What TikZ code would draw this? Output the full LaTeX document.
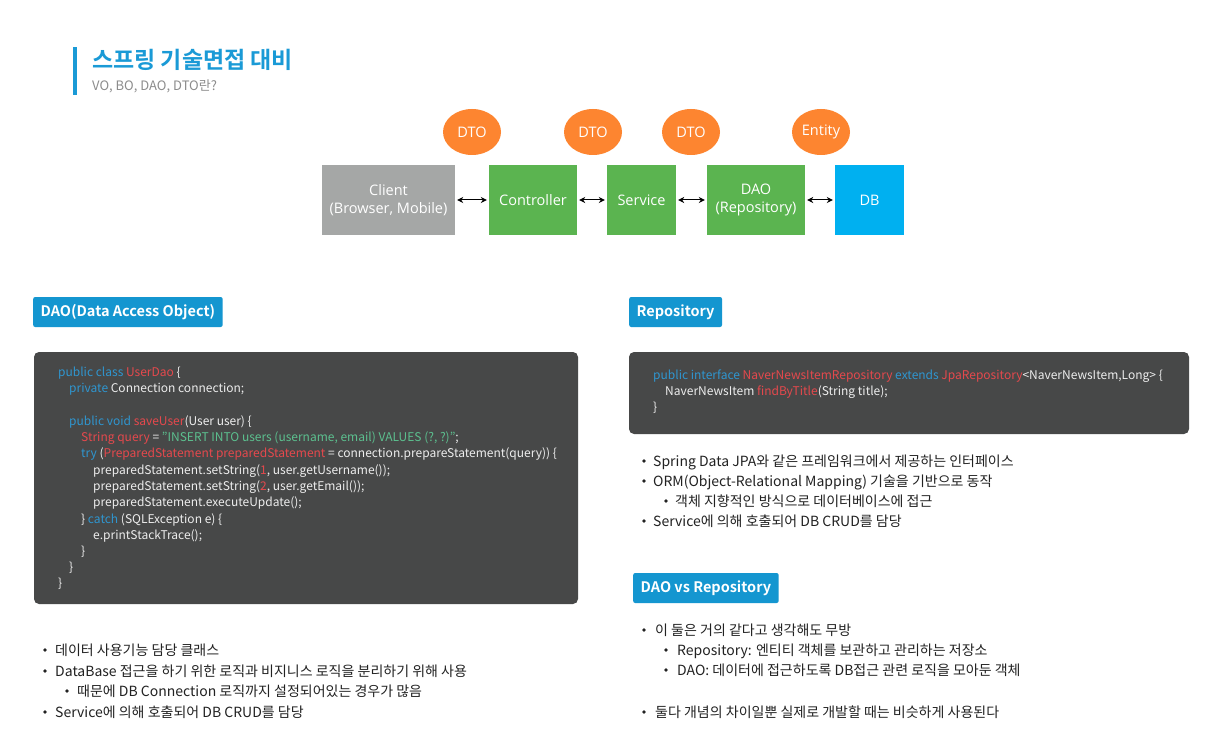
\documentclass[tikz,border=0pt]{standalone}
\usepackage{fontspec}
\setmainfont{Noto Sans CJK KR}[BoldFont={Noto Sans CJK KR Bold}]
\newfontfamily\diagfont{Open Sans}
\usepackage{tikz}
\usetikzlibrary{arrows.meta, positioning, shapes.geometric}
\usepackage{xcolor}
\definecolor{titleblue}{HTML}{1A9AD6}
\definecolor{subgray}{HTML}{8C8C8C}
\definecolor{tagblue}{HTML}{1496D0}
\definecolor{clientgray}{HTML}{A5A7A6}
\definecolor{layergreen}{HTML}{5BB450}
\definecolor{dbblue}{HTML}{00B0F0}
\definecolor{dtoorange}{HTML}{FD8530}
\definecolor{codegray}{HTML}{474848}
\definecolor{codetext}{HTML}{EDEDED}
\definecolor{codeblue}{HTML}{2F96D0}
\definecolor{codered}{HTML}{E5484D}
\definecolor{codegreen}{HTML}{5CC08F}
\definecolor{bodytext}{HTML}{222222}
\newcommand{\kw}[1]{\textcolor{codeblue}{#1}}
\newcommand{\idn}[1]{\textcolor{codered}{#1}}
\newcommand{\lit}[1]{\textcolor{codegreen}{#1}}

\begin{document}
\begin{tikzpicture}[x=1pt, y=-1pt,
      box/.style={minimum height=70pt, inner sep=0, text=white, align=center,
                  font=\diagfont\fontsize{14.5}{18.5}\selectfont},
      bubble/.style={ellipse, fill=dtoorange, minimum width=58pt, minimum height=46pt,
                     inner sep=0, text=white, font=\diagfont\fontsize{14.5}{17}\selectfont},
      link/.style={{Stealth[length=6pt,width=6pt]}-{Stealth[length=6pt,width=6pt]},
                   line width=1pt, shorten >=2pt, shorten <=2pt},
      tag/.style={anchor=west, fill=tagblue, rounded corners=2pt, text=white,
                  minimum height=30pt, inner xsep=7.5pt,
                  font=\bfseries\fontsize{14.5}{18}\selectfont},
      code/.style={anchor=base west, inner sep=0, text=codetext,
                   font=\fontsize{12}{14}\selectfont},
      txt/.style={anchor=base west, inner sep=0, text=bodytext,
                  font=\fontsize{14}{17}\selectfont}
    ]
      \fill[white] (0,0) rectangle (1220,751);
      \useasboundingbox (0,0) rectangle (1220,751);

      % heading
      \fill[titleblue] (73,47) rectangle (77,95);
      \node[anchor=base west, inner sep=0, text=titleblue,
            font=\bfseries\fontsize{23}{27}\selectfont] (title) at (92,69) {스프링 기술면접 대비};
      \node[anchor=base west, inner sep=0, text=subgray,
            font=\fontsize{13}{16}\selectfont] (subtitle) at (92,91) {VO, BO, DAO, DTO란?};

      % layers
      \node[box, fill=clientgray, minimum width=133pt] (client) at (388.5,200) {Client\\(Browser, Mobile)};
      \node[box, fill=layergreen, minimum width=88pt] (controller) at (533,200) {Controller};
      \node[box, fill=layergreen, minimum width=69pt] (service) at (641.5,200) {Service};
      \node[box, fill=layergreen, minimum width=98pt] (dao) at (756,200) {DAO\\(Repository)};
      \node[box, fill=dbblue, minimum width=69pt] (db) at (869.5,200) {DB};

      \draw[link] (client) -- (controller);
      \draw[link] (controller) -- (service);
      \draw[link] (service) -- (dao);
      \draw[link] (dao) -- (db);

      \node[bubble] (dto1) at (472,132) {DTO};
      \node[bubble] (dto2) at (593,132) {DTO};
      \node[bubble] (dto3) at (691,132) {DTO};
      \node[bubble] (entity) at (821,132) {Entity};

      % DAO column
      \node[tag] (daotag) at (33,312) {DAO(Data Access Object)};
      \fill[codegray, rounded corners=5pt] (34,352) rectangle (578,604);
      \node[code] (dao1) at (58,376) {\kw{public class} \idn{UserDao} \{};
      \node[code] (dao2) at (69,392) {\kw{private} Connection connection;};
      \node[code] (dao3) at (69,425) {\kw{public void} \idn{saveUser}(User user) \{};
      \node[code] (dao4) at (81,441) {\idn{String query} = \lit{"INSERT INTO users (username, email) VALUES (?, ?)"};};
      \node[code] (dao5) at (81,457) {\kw{try} (\idn{PreparedStatement preparedStatement} = connection.prepareStatement(query)) \{};
      \node[code] (dao6) at (93,474) {preparedStatement.setString(\idn{1}, user.getUsername());};
      \node[code] (dao7) at (93,490) {preparedStatement.setString(\idn{2}, user.getEmail());};
      \node[code] (dao8) at (93,506) {preparedStatement.executeUpdate();};
      \node[code] (dao9) at (81,523) {\} \kw{catch} (SQLException e) \{};
      \node[code] (dao10) at (93,539) {e.printStackTrace();};
      \node[code] (dao11) at (81,555) {\}};
      \node[code] (dao12) at (69,571) {\}};
      \node[code] (dao13) at (58,587) {\}};

      \node[txt] (daonote1) at (55,655) {데이터 사용기능 담당 클래스};
      \node[txt] (daonote2) at (55,676) {DataBase 접근을 하기 위한 로직과 비지니스 로직을 분리하기 위해 사용};
      \node[txt] (daonote3) at (77,696) {때문에 DB Connection 로직까지 설정되어있는 경우가 많음};
      \node[txt] (daonote4) at (55,717) {Service에 의해 호출되어 DB CRUD를 담당};

      % Repository column
      \node[tag] (repotag) at (629,312) {Repository};
      \fill[codegray, rounded corners=5pt] (629,352) rectangle (1189,434);
      \node[code] (repo1) at (653,379) {\kw{public interface} \idn{NaverNewsItemRepository} \kw{extends} \idn{JpaRepository}<NaverNewsItem,Long> \{};
      \node[code] (repo2) at (665,395) {NaverNewsItem \idn{findByTitle}(String title);};
      \node[code] (repo3) at (653,411) {\}};

      \node[txt] (reponote1) at (653,466) {Spring Data JPA와 같은 프레임워크에서 제공하는 인터페이스};
      \node[txt] (reponote2) at (653,486) {ORM(Object-Relational Mapping) 기술을 기반으로 동작};
      \node[txt] (reponote3) at (675,506) {객체 지향적인 방식으로 데이터베이스에 접근};
      \node[txt] (reponote4) at (653,526) {Service에 의해 호출되어 DB CRUD를 담당};

      \node[tag] (vstag) at (633,588) {DAO vs Repository};
      \node[txt] (vsnote1) at (655,635) {이 둘은 거의 같다고 생각해도 무방};
      \node[txt] (vsnote2) at (677,655) {Repository: 엔티티 객체를 보관하고 관리하는 저장소};
      \node[txt] (vsnote3) at (677,675) {DAO: 데이터에 접근하도록 DB접근 관련 로직을 모아둔 객체};
      \node[txt] (vsnote4) at (655,717) {둘다 개념의 차이일뿐 실제로 개발할 때는 비슷하게 사용된다};

      % bullets
      \foreach \bx/\by in {45/650, 45/671, 67/691, 45/712,
                           644/461, 644/481, 666/501, 644/521,
                           644/630, 666/650, 666/670, 644/712}
        \fill[bodytext] (\bx,\by) circle (1.8pt);
    \end{tikzpicture}
\end{document}
